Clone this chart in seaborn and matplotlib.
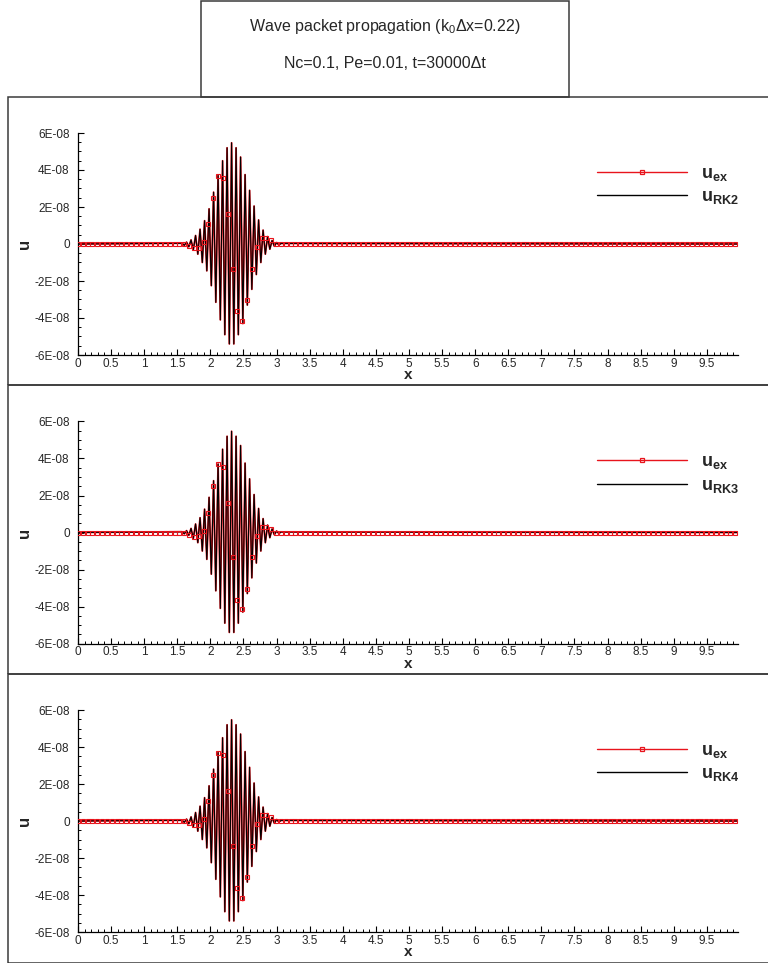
import matplotlib
matplotlib.use('Agg')
import matplotlib.pyplot as plt
from matplotlib.lines import Line2D
from matplotlib.patches import Rectangle
from matplotlib.ticker import FixedLocator, FixedFormatter, MultipleLocator
import numpy as np
import seaborn as sns

sns.set_style('white')
plt.rcParams['font.family'] = ['Liberation Sans', 'DejaVu Sans']
plt.rcParams['mathtext.fontset'] = 'custom'
plt.rcParams['mathtext.rm'] = 'Liberation Sans'
plt.rcParams['mathtext.bf'] = 'Liberation Sans:bold'
plt.rcParams['mathtext.it'] = 'Liberation Sans:italic'

title_lines = ['Wave packet propagation (k$_0$\u0394x=0.22)', 'Nc=0.1, Pe=0.01, t=30000\u0394t']
schemes = ['RK2', 'RK3', 'RK4']

# turning points of the packet (u in units of 1E-08)
x_peaks = [1.572, 1.606, 1.640, 1.674, 1.708, 1.742, 1.776, 1.810, 1.844, 1.878,
           1.912, 1.946, 1.980, 2.014, 2.048, 2.082, 2.116, 2.150, 2.184, 2.218,
           2.252, 2.286, 2.320, 2.354, 2.388, 2.422, 2.456, 2.490, 2.524, 2.558,
           2.592, 2.626, 2.660, 2.694, 2.728, 2.762, 2.796, 2.830, 2.864, 2.898,
           2.932, 2.966, 3.000, 3.034, 3.068]
u_peaks = [0.04, -0.07, 0.10, -0.15, 0.22, -0.32, 0.46, -0.55, 0.80, -1.00,
           1.26, -1.45, 1.90, -2.25, 2.80, -3.15, 3.70, -4.10, 4.50, -4.90,
           5.20, -5.40, 5.47, -5.40, 5.20, -4.90, 4.70, -4.30, 3.75, -3.30,
           2.90, -2.45, 2.05, -1.65, 1.30, -1.00, 0.75, -0.55, 0.40, -0.28,
           0.19, -0.12, 0.08, -0.05, 0.03]
x_start, x_end = 0.0, 9.97

# exact-solution symbols (u_ex) inside the packet
marker_step = 0.073
n_markers = 137
packet_first = 22
u_ex_packet = [0.0, -0.12, -0.22, -0.20, 0.10, 1.08, 2.50, 3.70, 3.55, 1.60,
               -1.35, -3.64, -4.14, -3.03, -1.35, -0.18, 0.30, 0.32, 0.20]

x_ticks = [0, 0.5, 1, 1.5, 2, 2.5, 3, 3.5, 4, 4.5, 5, 5.5, 6, 6.5, 7, 7.5, 8, 8.5, 9, 9.5]
x_tick_labels = ['0', '0.5', '1', '1.5', '2', '2.5', '3', '3.5', '4', '4.5', '5',
                 '5.5', '6', '6.5', '7', '7.5', '8', '8.5', '9', '9.5']
y_ticks = [-6e-8, -4e-8, -2e-8, 0, 2e-8, 4e-8, 6e-8]
y_tick_labels = ['-6E-08', '-4E-08', '-2E-08', '0', '2E-08', '4E-08', '6E-08']

scale = 1e-8
x_line = np.array([x_start] + x_peaks + [x_end])
u_line = np.array([0.0] + u_peaks + [0.0]) * scale
marker_x = np.arange(n_markers) * marker_step
marker_u = np.zeros(n_markers)
marker_u[packet_first:packet_first + len(u_ex_packet)] = u_ex_packet
marker_u = marker_u * scale

red = '#e8141c'
frame_col = '#3a3a3a'
W, H = 768, 963

fig = plt.figure(figsize=(W / 100, H / 100), dpi=100)

# title box
fig.add_artist(Rectangle((201 / W, 1 - 97 / H), 368 / W, 96 / H, transform=fig.transFigure,
                         fill=False, ec=frame_col, lw=1.1))
fig.text(385 / W, 1 - 26 / H, title_lines[0], ha='center', va='center', fontsize=11.5)
fig.text(385 / W, 1 - 63 / H, title_lines[1], ha='center', va='center', fontsize=11.5)

for i, name in enumerate(schemes):
    frame_top = 97 + 288.5 * i
    fig.add_artist(Rectangle((8 / W, 1 - (frame_top + 288.5) / H), 770 / W, 288.5 / H,
                             transform=fig.transFigure, fill=False, ec=frame_col, lw=1.1))

    top = 133 + 288.5 * i
    ax = fig.add_axes([78 / W, 1 - (top + 222) / H, 660 / W, 222 / H])

    sns.lineplot(x=x_line, y=u_line, ax=ax, color=red, lw=1.3, sort=False,
                 estimator=None, zorder=2)
    sns.lineplot(x=x_line, y=u_line, ax=ax, color='black', lw=0.8, sort=False,
                 estimator=None, zorder=3)
    ax.plot(marker_x, marker_u, ls='none', marker='s', ms=2.8, mfc='none',
            mec=red, mew=0.8, zorder=4)

    ax.set_xlim(x_start, x_end)
    ax.set_ylim(-6e-8, 6e-8)
    ax.xaxis.set_major_locator(FixedLocator(x_ticks))
    ax.xaxis.set_major_formatter(FixedFormatter(x_tick_labels))
    ax.xaxis.set_minor_locator(MultipleLocator(0.1))
    ax.yaxis.set_major_locator(FixedLocator(y_ticks))
    ax.yaxis.set_major_formatter(FixedFormatter(y_tick_labels))
    ax.yaxis.set_minor_locator(MultipleLocator(0.5e-8))
    ax.tick_params(which='major', direction='in', length=4.5, width=0.8,
                   labelsize=8.5, color='black')
    ax.tick_params(which='minor', direction='in', length=2.2, width=0.7, color='black')
    ax.tick_params(axis='x', which='both', bottom=True, pad=2)
    ax.tick_params(axis='y', which='both', left=True, pad=6)

    for s in ['top', 'right']:
        ax.spines[s].set_visible(False)
    for s in ['left', 'bottom']:
        ax.spines[s].set_color('black')
        ax.spines[s].set_linewidth(0.9)
    ax.patch.set_alpha(0)

    ax.set_xlabel('x', fontsize=11, fontweight='bold', labelpad=-1)
    ax.set_ylabel('u', fontsize=12, fontweight='bold')
    ax.yaxis.set_label_coords(-0.07, 0.5)

    handles = [Line2D([], [], color=red, lw=1.0, marker='s', ms=3, mfc='none', mec=red, mew=0.9),
               Line2D([], [], color='black', lw=1.0)]
    labels = [r'$\mathbf{u}_{\mathbf{ex}}$', r'$\mathbf{u}_{\mathbf{' + name + '}}$']
    ax.legend(handles, labels, loc='center left', bbox_to_anchor=(0.786, 0.763),
              frameon=False, fontsize=13, handlelength=5.0, handletextpad=0.8,
              labelspacing=0.3, borderpad=0, borderaxespad=0, numpoints=1)

fig.savefig('out.png', dpi=100)
